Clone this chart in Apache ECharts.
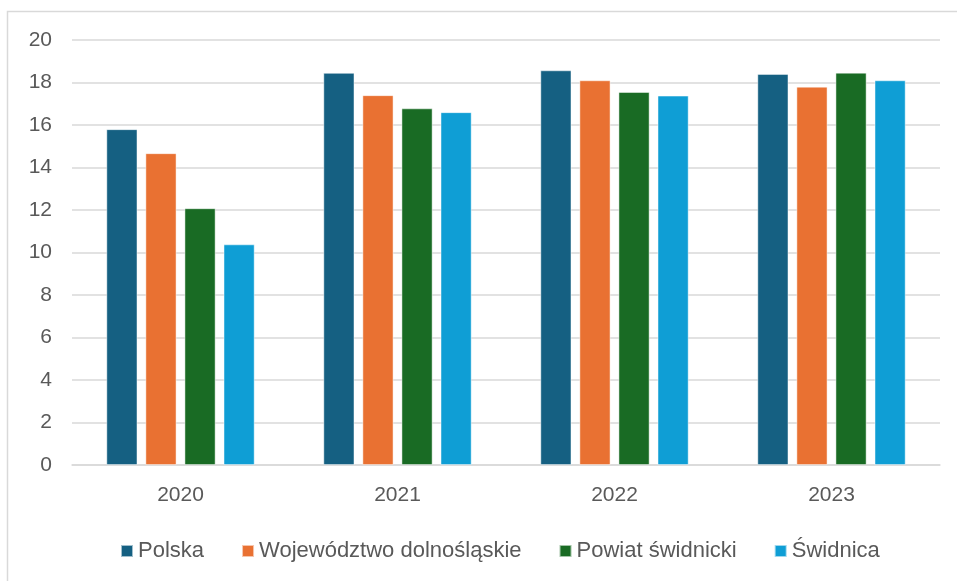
<!DOCTYPE html>
<html>
<head>
<meta charset="utf-8">
<script src="https://cdn.jsdelivr.net/npm/echarts@6/dist/echarts.min.js"></script>
<style>
html,body{margin:0;padding:0;background:#fff;}
#chart{width:957px;height:581px;}
</style>
</head>
<body>
<div id="chart"></div>
<script>
const categories = ['2020', '2021', '2022', '2023'];
const seriesNames = ['Polska', 'Województwo dolnośląskie', 'Powiat świdnicki', 'Świdnica'];
const polska = [15.8, 18.45, 18.57, 18.4];
const wojewodztwo = [14.67, 17.4, 18.1, 17.8];
const powiat = [12.08, 16.78, 17.55, 18.46];
const swidnica = [10.38, 16.6, 17.38, 18.1];
const colors = ['#156082', '#E97132', '#196B24', '#0F9ED5'];

const values = [polska, wojewodztwo, powiat, swidnica];
const chart = echarts.init(document.getElementById('chart'), null, {renderer: 'canvas'});
const font = '"Liberation Sans", Arial, sans-serif';
chart.setOption({
  animation: false,
  color: colors,
  graphic: [{
    type: 'rect',
    shape: {x: 7.5, y: 11.5, width: 1000, height: 700},
    style: {fill: 'none', stroke: '#d9d9d9', lineWidth: 1.5},
    silent: true
  }],
  grid: {left: 72, right: 17, top: 40, bottom: 116},
  legend: {
    left: 115, top: 535,
    itemWidth: 12, itemHeight: 12, itemGap: 37,
    icon: 'rect',
    textStyle: {fontFamily: font, fontSize: 22, color: '#595959'},
    data: seriesNames
  },
  xAxis: {
    type: 'category',
    data: categories,
    axisLine: {lineStyle: {color: '#d9d9d9', width: 1.5}},
    axisTick: {show: false},
    axisLabel: {fontFamily: font, fontSize: 21, color: '#595959', margin: 20}
  },
  yAxis: {
    type: 'value',
    min: 0, max: 20, interval: 2,
    axisLine: {show: false},
    axisTick: {show: false},
    splitLine: {lineStyle: {color: '#d9d9d9', width: 1.5}},
    axisLabel: {fontFamily: font, fontSize: 21, color: '#595959', margin: 20}
  },
  series: seriesNames.map((n, i) => ({
    name: n,
    type: 'bar',
    data: values[i],
    barWidth: 31,
    barGap: '26%',
    itemStyle: {borderColor: 'rgba(255,255,255,0.6)', borderWidth: 0.8}
  }))
});
</script>
</body>
</html>
